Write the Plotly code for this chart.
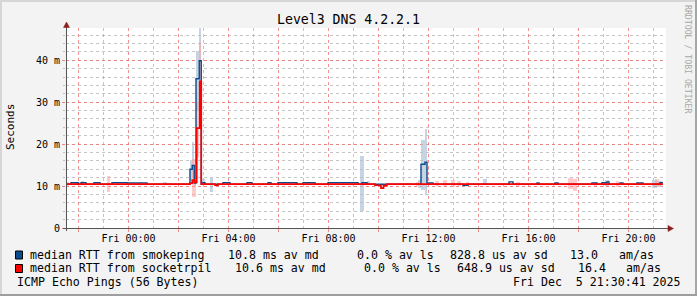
import plotly.graph_objects as go

# ---------------- canvas geometry (pixels) ----------------
W, H = 697, 296
L, R, T, B = 66, 666, 28, 228  # plot area


def px(x):
    return (x - L) / (R - L)


def py(y):
    return (B - y) / (B - T)


MONO = "DejaVu Sans Mono"

# ---------------- data (hours relative to Fri 00:00, values in ms) ----------------
x_range = [-2.5, 21.5]
y_range = [0, 47.7]

major_hours = [-2, 0, 2, 4, 6, 8, 10, 12, 14, 16, 18, 20]
major_labels = ["", "Fri 00:00", "", "Fri 04:00", "", "Fri 08:00", "",
                "Fri 12:00", "", "Fri 16:00", "", "Fri 20:00"]

y_ticks = [0, 10, 20, 30, 40]
y_labels = ["0", "10 m", "20 m", "30 m", "40 m"]

# median RTT from smokeping (step change points)
blue_t = [-2.5, -2.3, -2.0, -1.9, -1.7, -1.38, -1.14, -0.66, -0.06, 0.74,
          2.46, 2.55, 2.63, 2.7, 2.83, 2.91, 2.94, 3.06, 3.78, 4.06,
          4.74, 4.94, 5.58, 5.7, 5.98, 6.74, 6.98, 7.46, 7.98, 9.18,
          9.34, 9.54, 11.7, 11.86, 11.94, 12.18, 13.38, 13.58, 15.22, 15.38,
          16.34, 16.42, 17.06, 17.18, 18.54, 18.74, 18.94, 19.14, 19.22, 19.66,
          19.78, 20.34, 20.58, 21.26, 21.38]
blue_v = [10.45, 10.8, 10.45, 10.8, 10.45, 10.8, 10.45, 10.8, 10.75, 10.45,
          14.0, 14.9, 10.7, 35.6, 39.9, 10.45, 10.8, 10.45, 10.8, 10.45,
          10.8, 10.45, 10.8, 10.45, 10.8, 10.45, 10.8, 10.45, 10.8, 10.45,
          10.8, 10.45, 15.2, 15.7, 10.75, 10.45, 10.2, 10.45, 11.0, 10.45,
          10.75, 10.45, 10.75, 10.45, 10.75, 10.45, 10.8, 11.0, 10.45, 10.75,
          10.45, 10.75, 10.45, 10.8, 10.8]

# median RTT from socketrpil
red_t = [-2.5, 2.46, 2.55, 2.63, 2.73, 2.85, 2.91, 3.46, 3.58, 9.86, 10.1, 10.2, 10.34, 21.38]
red_v = [10.45, 10.7, 11.4, 10.9, 23.8, 35.0, 10.45, 10.2, 10.45, 10.2, 9.5, 10.1, 10.45, 10.45]

# smoke (ping spread) for smokeping: start, end, low, high
blue_s_start = [-2.2, -1.9, 1.38, 2.46, 2.55, 2.63, 2.7, 2.83, 2.94, 3.26, 9.26, 9.54,
                11.58, 11.7, 11.86, 14.18, 19.06, 20.94, 21.14]
blue_s_end = [-2.0, -1.78, 1.54, 2.55, 2.63, 2.7, 2.83, 2.91, 3.06, 3.38, 9.42, 9.66,
              11.7, 11.86, 11.94, 14.34, 19.22, 21.14, 21.34]
blue_s_low = [10.4, 10.4, 10.45, 11.5, 12.0, 10.0, 28.0, 30.0, 10.2, 8.7, 4.0, 10.3,
              9.5, 9.0, 7.9, 10.3, 10.0, 9.5, 9.8]
blue_s_high = [11.0, 11.1, 11.0, 16.3, 20.6, 11.5, 42.3, 48.0, 11.8, 12.0, 17.1, 11.2,
               11.5, 21.0, 23.7, 11.8, 11.5, 11.5, 11.2]

# smoke for socketrpil
red_s_start = [-2.5, -0.86, 2.55, 2.7, 2.83, 5.38, 11.5, 12.26, 12.58, 12.9, 13.14, 13.5,
               15.5, 17.58, 17.76, 18.62, 19.5, 21.06]
red_s_end = [-2.38, -0.74, 2.7, 2.83, 2.91, 5.5, 11.62, 12.42, 12.74, 13.06, 13.3, 13.62,
             15.66, 17.76, 17.94, 18.74, 19.62, 21.22]
red_s_low = [10.0, 8.6, 7.4, 17.0, 30.0, 10.3, 10.0, 10.0, 9.9, 9.8, 10.0, 10.1,
             10.0, 9.2, 8.9, 10.1, 9.8, 10.0]
red_s_high = [11.0, 12.3, 16.5, 30.0, 44.3, 10.8, 11.0, 11.2, 11.4, 11.5, 11.3, 10.9,
              11.0, 11.9, 11.6, 10.9, 11.3, 11.6]

# legend / footer text
legend_rows = [
    ["median RTT from smokeping", "10.8 ms av md", "0.0 % av ls", "828.8 us av sd", "13.0", "am/as"],
    ["median RTT from socketrpil", "10.6 ms av md", "0.0 % av ls", "648.9 us av sd", "16.4", "am/as"],
]
legend_cols = [
    [30, 228.3, 356.7, 450, 570, 619.3],
    [30, 235.3, 364, 457.3, 578, 626],
]
legend_y = [254.7, 268.3]
footer_left = "ICMP Echo Pings (56 Bytes)"
footer_right = "Fri Dec\u00a0\u00a05 21:30:41 2025"

BLUE = "#0b4a8b"
RED = "#ff0000"
BLUE_SMOKE = "rgba(175,194,215,0.7)"
RED_SMOKE = "rgba(255,160,160,0.55)"


def smoke_trace(s, e, lo, hi, color):
    return go.Bar(
        x=[(a + b) / 2 for a, b in zip(s, e)],
        width=[b - a for a, b in zip(s, e)],
        base=lo,
        y=[h - l for l, h in zip(lo, hi)],
        marker=dict(color=color, line=dict(width=0)),
        showlegend=False, hoverinfo="skip",
    )


fig = go.Figure()
fig.add_trace(smoke_trace(blue_s_start, blue_s_end, blue_s_low, blue_s_high, BLUE_SMOKE))
fig.add_trace(smoke_trace(red_s_start, red_s_end, red_s_low, red_s_high, RED_SMOKE))
fig.add_trace(go.Scatter(x=blue_t, y=blue_v, mode="lines", line=dict(color=BLUE, width=1.4, shape="hv"),
                         showlegend=False, hoverinfo="skip"))
fig.add_trace(go.Scatter(x=red_t, y=red_v, mode="lines", line=dict(color=RED, width=1.7, shape="hv"),
                         showlegend=False, hoverinfo="skip"))

MGRID = "rgba(240,110,110,0.75)"
GRID = "rgba(150,150,150,0.55)"

fig.update_layout(
    width=W, height=H, autosize=False,
    margin=dict(l=L, r=W - R, t=T, b=H - B, pad=0),
    paper_bgcolor="#f3f3f3", plot_bgcolor="#ffffff",
    barmode="overlay", bargap=0, showlegend=False, hovermode=False,
    font=dict(family=MONO, size=10, color="#000000"),
    xaxis=dict(
        range=x_range, tickmode="array", tickvals=major_hours, ticktext=major_labels,
        showgrid=True, gridcolor=MGRID, griddash="dot", gridwidth=1,
        ticks="outside", ticklen=3, tickcolor=MGRID, tickfont=dict(family=MONO, size=10),
        ticklabelstandoff=-2,
        minor=dict(tickmode="linear", tick0=-1, dtick=2, showgrid=True, gridcolor=GRID,
                   griddash="dot", ticks=""),
        showline=False, zeroline=False, fixedrange=True,
    ),
    yaxis=dict(
        range=y_range, tickmode="array", tickvals=y_ticks, ticktext=y_labels,
        showgrid=True, gridcolor=MGRID, griddash="dot", gridwidth=1,
        ticks="outside", ticklen=3, tickcolor=MGRID, tickfont=dict(family=MONO, size=10),
        minor=dict(tickmode="linear", tick0=0, dtick=2, showgrid=True, gridcolor=GRID,
                   griddash="dot", ticks="outside", ticklen=2, tickcolor=GRID),
        showline=False, zeroline=False, fixedrange=True,
    ),
)

shapes = []
# frame shading
shapes.append(dict(type="rect", xref="paper", yref="paper", x0=px(0), x1=px(W), y0=py(0), y1=py(2),
                   fillcolor="#d6d6d6", line=dict(width=0), layer="below"))
shapes.append(dict(type="rect", xref="paper", yref="paper", x0=px(0), x1=px(2), y0=py(0), y1=py(H),
                   fillcolor="#d6d6d6", line=dict(width=0), layer="below"))
shapes.append(dict(type="rect", xref="paper", yref="paper", x0=px(W - 2), x1=px(W), y0=py(0), y1=py(H),
                   fillcolor="#a6a6a6", line=dict(width=0), layer="below"))
shapes.append(dict(type="rect", xref="paper", yref="paper", x0=px(0), x1=px(W), y0=py(H - 2), y1=py(H),
                   fillcolor="#9e9e9e", line=dict(width=0), layer="below"))
# axis lines
AX = "#555555"
shapes.append(dict(type="line", xref="paper", yref="paper", x0=px(66.5), x1=px(66.5), y0=py(231), y1=py(25),
                   line=dict(color=AX, width=1)))
shapes.append(dict(type="line", xref="paper", yref="paper", x0=px(63), x1=px(670), y0=py(228.5), y1=py(228.5),
                   line=dict(color=AX, width=1)))
# arrow heads
ARROW = "#8b1e1e"
shapes.append(dict(type="path", xref="paper", yref="paper",
                   path=f"M {px(63.5)} {py(27.5)} L {px(69.5)} {py(27.5)} L {px(66.5)} {py(22)} Z",
                   fillcolor=ARROW, line=dict(color=ARROW, width=0.5)))
shapes.append(dict(type="path", xref="paper", yref="paper",
                   path=f"M {px(668)} {py(225.5)} L {px(668)} {py(231.5)} L {px(673.5)} {py(228.5)} Z",
                   fillcolor=ARROW, line=dict(color=ARROW, width=0.5)))
# legend colour boxes
shapes.append(dict(type="rect", xref="paper", yref="paper", x0=px(15.5), x1=px(22.5), y0=py(259), y1=py(251),
                   fillcolor=BLUE, line=dict(color="#000000", width=1)))
shapes.append(dict(type="rect", xref="paper", yref="paper", x0=px(15.5), x1=px(22.5), y0=py(272.5), y1=py(264.5),
                   fillcolor=RED, line=dict(color="#000000", width=1)))
fig.update_layout(shapes=shapes)

ann = []


def text(x, y, s, size=11.6, anchor="left", color="#000000", angle=0):
    ann.append(dict(x=px(x), y=py(y), xref="paper", yref="paper", text=s, showarrow=False,
                    xanchor=anchor, yanchor="middle", textangle=angle, borderpad=0,
                    font=dict(family=MONO, size=size, color=color)))


text(348.5, 19, "Level3 DNS 4.2.2.1", size=13.2, anchor="center")
text(10, 127, "Seconds", size=11, anchor="center", angle=-90)
text(688, 59, "RRDTOOL / TOBI OETIKER", size=8.2, anchor="center", color="#a8a8a8", angle=90)
for row, cols, yy in zip(legend_rows, legend_cols, legend_y):
    for s, xx in zip(row, cols):
        text(xx - 1, yy, s)
text(16.7 - 1, 282.3, footer_left)
text(512.7 - 1, 282.3, footer_right)
fig.update_layout(annotations=ann)

fig.write_html("out.html", include_plotlyjs=True, config={"displayModeBar": False, "staticPlot": True})
